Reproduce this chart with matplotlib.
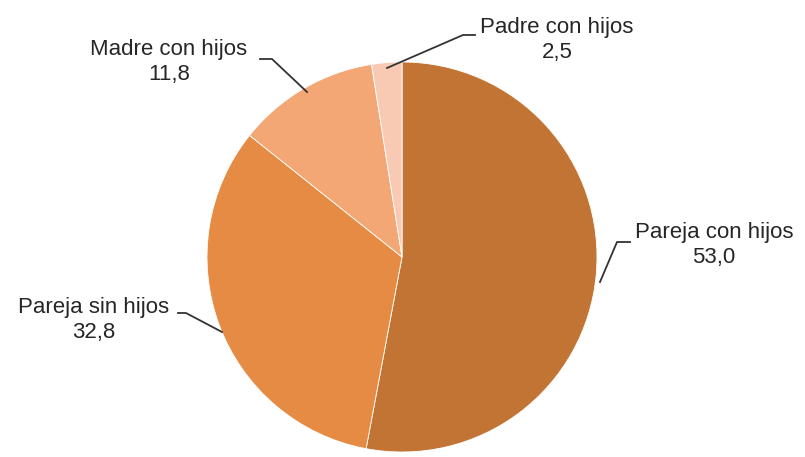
import matplotlib
matplotlib.use('Agg')
from matplotlib import pyplot

# tipos de hogar (%)
labels = ['Pareja con hijos', 'Pareja sin hijos', 'Madre con hijos', 'Padre con hijos']
values = [53.0, 32.8, 11.8, 2.5]
colors = ['#C27434', '#E68B43', '#F3A775', '#F8CAB3']

# label text positions and leader line elbows (pixel coords, y from top)
text_pos = [(714, 245), (94, 320), (169, 62), (557, 40)]
elbows = [(630, 242), (178, 313), (260, 59), (475, 35)]
kinks = [(617, 242), (186, 313), (272, 59), (463, 35)]
tips = [(600, 282), (222, 332), (307, 92), (387, 68)]

W, H = 805, 457
fig = pyplot.figure(figsize=(W / 100, H / 100), dpi=100)
ax = fig.add_axes([0, 0, 1, 1])

# inverted y axis flips the direction, so counterclock here reads clockwise
ax.pie(values, colors=colors, center=(402, 257), radius=195, startangle=-90,
       counterclock=True, frame=True,
       wedgeprops=dict(edgecolor='white', linewidth=0.6))
ax.set_xlim(0, W)
ax.set_ylim(H, 0)
ax.set_aspect('equal')
ax.axis('off')

font = ['Liberation Sans', 'DejaVu Sans']
for lab, val, tp, el, kn, tip in zip(labels, values, text_pos, elbows, kinks, tips):
    txt = lab + '\n' + ('%.1f' % val).replace('.', ',')
    ax.text(tp[0], tp[1], txt, ha='center', va='center', fontsize=16,
            family=font, color='#262626', linespacing=1.2)
    ax.plot([el[0], kn[0], tip[0]], [el[1], kn[1], tip[1]], color='#333333', lw=1.3)

pyplot.savefig('out.png', dpi=100)
